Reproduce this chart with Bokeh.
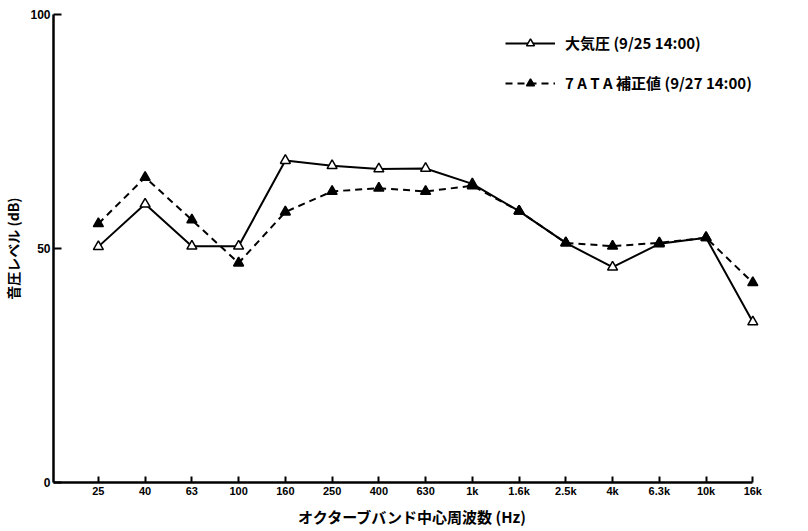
from bokeh.plotting import figure
from bokeh.models import Range1d, FixedTicker, Legend, LegendItem
from bokeh.embed import file_html
from bokeh.resources import INLINE

bands = ["25", "40", "63", "100", "160", "250", "400", "630", "1k",
         "1.6k", "2.5k", "4k", "6.3k", "10k", "16k"]
atm_values = [50.4, 59.5, 50.5, 50.5, 68.8, 67.7, 67.0, 67.1, 63.8,
              58.0, 51.2, 46.0, 51.0, 52.3, 34.3]
ata_values = [55.3, 65.2, 56.1, 46.9, 57.8, 62.2, 62.9, 62.2, 63.4,
              58.0, 51.2, 50.5, 51.2, 52.3, 42.7]
y_ticks = [0, 50, 100]
atm_label = "大気圧 (9/25 14:00)"
ata_label = "7 A T A 補正値 (9/27 14:00)"
x_title = "オクターブバンド中心周波数 (Hz)"
y_title = "音圧レベル (dB)"

xs = list(range(len(bands)))

p = figure(width=806, height=530, output_backend="svg", toolbar_location=None,
           x_range=Range1d(-0.96, 14.4), y_range=Range1d(0, 100),
           min_border_left=53, min_border_right=35, min_border_top=14,
           min_border_bottom=48)
p.outline_line_color = None
p.xgrid.visible = False
p.ygrid.visible = False
p.background_fill_color = "white"
p.border_fill_color = "white"

cjk = "Noto Sans CJK JP"

# x axis
xa = p.xaxis[0]
xa.ticker = FixedTicker(ticks=xs)
xa.major_label_overrides = {i: b for i, b in zip(xs, bands)}
xa.bounds = (-0.96, 14)
xa.axis_line_width = 2.5
xa.axis_line_color = "black"
xa.major_tick_in = 6
xa.major_tick_out = 0
xa.major_tick_line_width = 2
xa.minor_tick_line_color = None
xa.major_label_text_font = "Liberation Sans"
xa.major_label_text_font_style = "bold"
xa.major_label_text_font_size = "11px"
xa.major_label_text_color = "black"
xa.major_label_standoff = 2
xa.axis_label = x_title
xa.axis_label_text_font = cjk
xa.axis_label_text_font_style = "bold"
xa.axis_label_text_font_size = "15px"
xa.axis_label_text_color = "black"
xa.axis_label_standoff = 6

# y axis
ya = p.yaxis[0]
ya.ticker = FixedTicker(ticks=y_ticks)
ya.axis_line_width = 2.5
ya.axis_line_color = "black"
ya.major_tick_in = 8
ya.major_tick_out = 0
ya.major_tick_line_width = 2
ya.minor_tick_line_color = None
ya.major_label_text_font = "Liberation Sans"
ya.major_label_text_font_style = "bold"
ya.major_label_text_font_size = "12px"
ya.major_label_text_color = "black"
ya.major_label_standoff = 3
ya.axis_label = y_title
ya.axis_label_text_font = cjk
ya.axis_label_text_font_style = "bold"
ya.axis_label_text_font_size = "14px"
ya.axis_label_text_color = "black"
ya.axis_label_standoff = 4

# series
l1 = p.line(xs, atm_values, line_color="black", line_width=2)
s1 = p.scatter(xs, atm_values, marker="triangle", size=10,
               fill_color="white", line_color="black", line_width=1.5)
l2 = p.line(xs, ata_values, line_color="black", line_width=2, line_dash="7 5")
s2 = p.scatter(xs, ata_values, marker="triangle", size=10,
               fill_color="black", line_color="black", line_width=1.5)

legend = Legend(items=[LegendItem(label=atm_label, renderers=[l1, s1]),
                       LegendItem(label=ata_label, renderers=[l2, s2])],
                location=(452, 389))
legend.border_line_color = None
legend.background_fill_alpha = 0
legend.padding = 0
legend.margin = 0
legend.glyph_width = 50
legend.glyph_height = 20
legend.label_height = 20
legend.spacing = 19
legend.label_standoff = 10
legend.label_text_font = cjk
legend.label_text_font_style = "bold"
legend.label_text_font_size = "15px"
legend.label_text_color = "black"
p.add_layout(legend)

open("out.html", "w").write(file_html(p, INLINE))
